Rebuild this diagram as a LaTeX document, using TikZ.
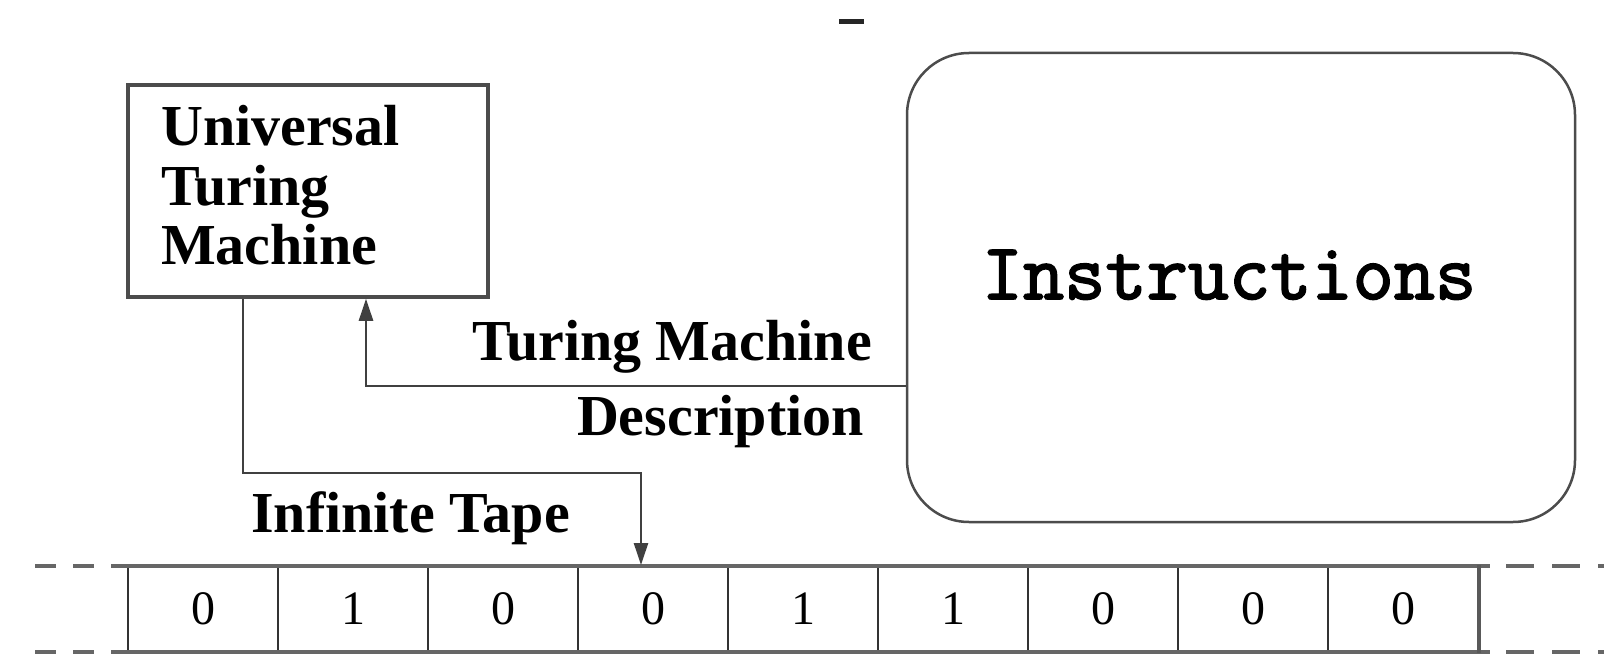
\documentclass[tikz,border=0pt]{standalone}
\usepackage{fontspec}
\setmainfont{Liberation Serif}
\newfontfamily\insfont[FakeBold=2.2]{Latin Modern Mono}
\usetikzlibrary{arrows.meta}
\begin{document}
\begin{tikzpicture}[x=1pt,y=-1pt,
  lbl/.style={font=\fontsize{58}{59}\selectfont\bfseries, inner sep=0pt},
  edge/.style={draw=black!75, line width=2.5pt},
  tip/.style={-{Triangle[length=22pt,width=14pt]}},
  cell/.style={draw=black!80, line width=2pt, minimum width=150pt, minimum height=86pt,
    inner sep=0pt, font=\fontsize{48}{48}\selectfont},
  tapeedge/.style={draw=black!60, line width=4pt},
  dashl/.style={draw=black!60, line width=4pt, dash pattern=on 21pt off 17pt},
  dashr/.style={draw=black!60, line width=4pt, dash pattern=on 28pt off 18pt}
]
\useasboundingbox (0,0) rectangle (1604,661);
\fill[white] (0,0) rectangle (1604,661);

% small mark at top
\coordinate (m1) at (839,22);
\coordinate (m2) at (864,22);
\draw[line width=5pt, black!85] (m1) -- (m2);

% Universal Turing Machine box
\node[draw=black!70, line width=3.5pt, minimum width=360pt, minimum height=212pt, inner sep=0pt] (utm) at (308,191) {};
\node[lbl, anchor=base west] (u1) at (161,145) {Universal};
\node[lbl, anchor=base west] (u2) at (161,205) {Turing};
\node[lbl, anchor=base west] (u3) at (161,264) {Machine};

% Instructions box
\node[draw=black!70, line width=2.5pt, rounded corners=62pt, minimum width=668pt, minimum height=469pt, inner sep=0pt] (ins) at (1241,287.5) {};
\node[font=\fontsize{80}{80}\selectfont\insfont, anchor=base, inner sep=0pt] (inst) at (1229,299) {Instructions};

% tape
\foreach \d [count=\i] in {0,1,0,0,1,1,0,0,0} {
  \node[cell] (c\i) at ({128+75+150*(\i-1)},609) {\d};
}
\coordinate (tl) at (35,566);
\coordinate (bl) at (35,652);
\coordinate (tls) at (113,566);
\coordinate (bls) at (113,652);
\coordinate (trs) at (1490,566);
\coordinate (brs) at (1490,652);
\coordinate (tr0) at (1506,566);
\coordinate (br0) at (1506,652);
\coordinate (tr) at (1604,566);
\coordinate (br) at (1604,652);
\draw[tapeedge] (tls) -- (trs);
\draw[tapeedge] (bls) -- (brs);
\draw[draw=black!65, line width=4pt] (c9.north east) -- (c9.south east);
\draw[dashl] (tl) -- (tls);
\draw[dashl] (bl) -- (bls);
\draw[dashr] (tr0) -- (tr);
\draw[dashr] (br0) -- (br);

% connectors
\draw[edge, tip] ([yshift=-98.5pt]ins.west) -| ([xshift=58pt]utm.south);
\coordinate (bend) at (641,473);
\draw[edge, tip] ([xshift=-65pt]utm.south) |- (bend) -- (bend |- c4.north);

% labels
\node[lbl, anchor=base east] (tm) at (872,360) {Turing Machine};
\node[lbl, anchor=base east] (desc) at (864,435) {Description};
\node[lbl, anchor=base west] (tape) at (251,532) {Infinite Tape};
\end{tikzpicture}
\end{document}
